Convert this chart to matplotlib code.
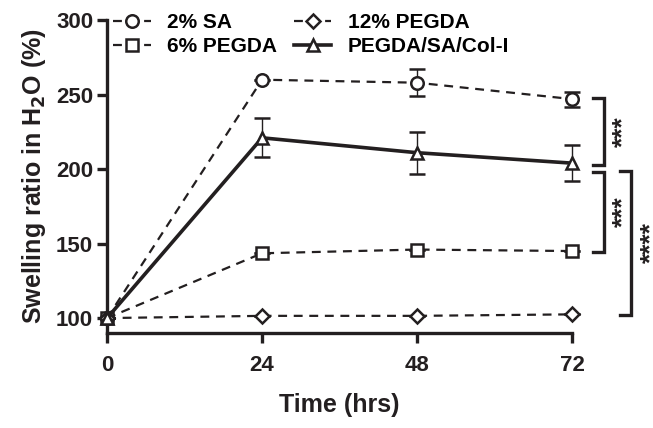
import numpy as np
import matplotlib.pyplot as plt
from matplotlib.lines import Line2D

plt.rcParams['font.family'] = 'Liberation Sans'
plt.rcParams['font.weight'] = 'bold'

time_hrs = [0, 24, 48, 72]
sa_2 = [100, 260, 258, 247]
sa_2_err = [0, 0, 9, 5]
pegda_6 = [100, 143.5, 146, 145]
pegda_6_err = [0, 0, 0, 0]
pegda_12 = [100, 101.5, 101.5, 102.5]
pegda_12_err = [0, 0, 0, 0]
composite = [100, 221, 211, 204]
composite_err = [0, 13, 14, 12]

# significance brackets: (x, y_top, y_bottom, label, label_x)
brackets = [(75.2, 247.5, 203, '***', 80.0),
            (75.2, 198, 144.5, '***', 80.0),
            (79.4, 199, 102, '****', 84.2)]

ink = '#231f20'
fig = plt.figure(figsize=(6.53, 4.28), dpi=100)
ax = fig.add_axes([0.164, 0.222, 0.712, 0.731])

series = [
    (sa_2, sa_2_err, 'o', '--', 1.6, '2% SA'),
    (pegda_6, pegda_6_err, 's', '--', 1.6, '6% PEGDA'),
    (pegda_12, pegda_12_err, 'D', '--', 1.6, '12% PEGDA'),
    (composite, composite_err, '^', '-', 2.6, 'PEGDA/SA/Col-I'),
]
handles = []
for vals, err, mk, ls, lw, lab in series:
    ms = 7 if mk == 'D' else 9
    dashes = (4, 3) if ls == '--' else (None, None)
    ax.errorbar(time_hrs, vals, yerr=err, color=ink, marker=mk,
                linestyle=ls, linewidth=lw, markersize=ms,
                markerfacecolor='white', markeredgewidth=1.8,
                elinewidth=1.0, capsize=6, capthick=1.0,
                dashes=dashes, clip_on=False, zorder=3)
    handles.append(Line2D([], [], color=ink, marker=mk, linestyle=ls,
                          linewidth=lw, markersize=ms, dashes=dashes,
                          markerfacecolor='white', markeredgewidth=1.8,
                          label=lab))

ax.set_xlim(0, 72)
ax.set_ylim(90, 300)
ax.set_xticks(time_hrs)
ax.set_yticks([100, 150, 200, 250, 300])
ax.spines['top'].set_visible(False)
ax.spines['right'].set_visible(False)
for s in ['left', 'bottom']:
    ax.spines[s].set_linewidth(2.4)
    ax.spines[s].set_color(ink)
ax.tick_params(width=2.4, length=7, labelsize=16, color=ink, labelcolor=ink)
ax.tick_params(axis='x', pad=9)
ax.tick_params(axis='y', pad=3)
ax.set_xlabel('Time (hrs)', fontsize=18, fontweight='bold', color=ink, labelpad=12)
ax.set_ylabel('Swelling ratio in H$_\\mathbf{2}$O (%)', fontsize=18,
              fontweight='bold', color=ink, labelpad=6)

fig.legend(handles=handles, ncol=2,
           loc='upper left', bbox_to_anchor=(113 / 653, 1 - 13 / 428),
           frameon=False, fontsize=15, handlelength=1.8,
           handletextpad=0.8, columnspacing=0.8, labelspacing=0.25,
           borderpad=0, borderaxespad=0)

for x, yt, yb, lab, lx in brackets:
    w = 1.8
    ax.plot([x, x + w, x + w, x], [yt, yt, yb, yb], color=ink,
            linewidth=2.4, clip_on=False, solid_joinstyle='miter')
    ax.text(lx, (yt + yb) / 2, lab, rotation=90, ha='center', va='center',
            fontsize=19, fontweight='bold', color=ink)

fig.savefig('out.png', dpi=100)
